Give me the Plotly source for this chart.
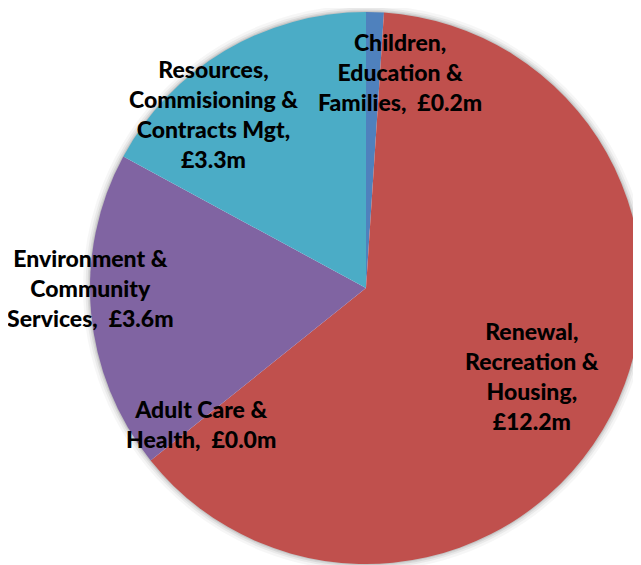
import plotly.graph_objects as go

# ---- data ----
categories = [
    "Children, Education & Families",
    "Renewal, Recreation & Housing",
    "Adult Care & Health",
    "Environment & Community Services",
    "Resources, Commisioning & Contracts Mgt",
]
values = [0.2, 12.2, 0.0, 3.6, 3.3]  # £m
label_prefix = [
    "Children,<br>Education &<br>Families,\u00a0 ",
    "Renewal,<br>Recreation &<br>Housing,<br>",
    "Adult Care &<br>Health,\u00a0 ",
    "Environment &<br>Community<br>Services,\u00a0 ",
    "Resources,<br>Commisioning &<br>Contracts Mgt,<br>",
]

# ---- style / layout ----
colors = ["#4F81BD", "#C0504D", "#9BBB59", "#8064A2", "#4BACC6"]
W, H = 641, 565
OFF = 8  # default page body margin
# target pie: centre (366, 288) px in the window, radius 276
CX, CY, R = 366 - OFF, 288 - OFF, 276
dom_x = [(CX - R) / W, min(1.0, (CX + R) / W)]
dom_y = [max(0.0, (H - CY - R) / H), min(1.0, (H - CY + R) / H)]
label_px = [(400, 72), (532, 376), (201, 424), (90, 288), (213, 114)]
FONT = "Lato, 'Open Sans', sans-serif"

fig = go.Figure()

# soft shadow halo behind the pie
for lw, alpha in [(14, 0.035), (9, 0.05), (5, 0.07), (2, 0.09)]:
    fig.add_trace(go.Pie(
        values=[1], labels=["shadow"], domain=dict(x=dom_x, y=dom_y),
        marker=dict(colors=["rgba(0,0,0,0)"], line=dict(color=f"rgba(0,0,0,{alpha})", width=lw)),
        textinfo="none", hoverinfo="skip", showlegend=False, sort=False,
    ))

fig.add_trace(go.Pie(
    labels=categories, values=values, sort=False, direction="clockwise", rotation=0,
    domain=dict(x=dom_x, y=dom_y),
    marker=dict(colors=colors, line=dict(width=0)),
    textinfo="none", showlegend=False,
    hovertemplate="%{label}: £%{value:.1f}m<extra></extra>",
))

for i, (px, py) in enumerate(label_px):
    fig.add_annotation(
        x=(px - OFF) / W, y=1 - (py - OFF) / H, xref="paper", yref="paper",
        xanchor="center", yanchor="middle", showarrow=False, align="center",
        text=label_prefix[i] + f"£{values[i]:.1f}m",
        font=dict(family=FONT, size=23, color="#000000", weight=900),
    )

fig.update_layout(
    width=W, height=H, margin=dict(l=0, r=0, t=0, b=0),
    paper_bgcolor="white", plot_bgcolor="white", showlegend=False,
)

fig.write_html(
    "out.html",
    config={"displayModeBar": False},
    post_script="document.body.style.overflow='hidden';",
)
